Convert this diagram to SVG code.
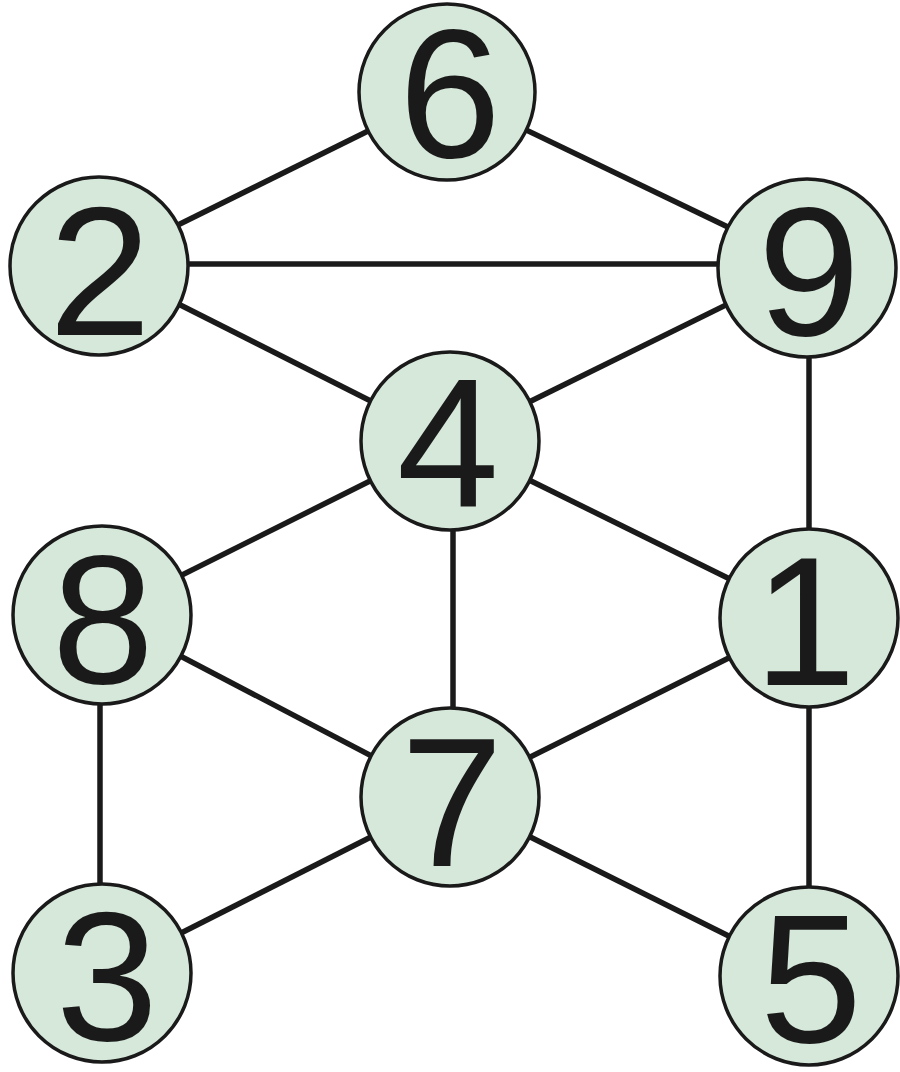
<svg xmlns="http://www.w3.org/2000/svg" width="900" height="1072" viewBox="0 0 900 1072">
<style>
.edge{stroke:#1a1a1a;stroke-width:5.5;stroke-linecap:butt;fill:none}
.node circle{fill:#d6e8da;stroke:#1a1a1a;stroke-width:3.5}
.node text{font-family:"Liberation Sans",Arial,sans-serif;font-size:184px;fill:#1a1a1a;text-anchor:middle}
</style>
<rect width="900" height="1072" fill="#ffffff"/>
<g id="connectors">
<line class="edge" x1="447" y1="92" x2="99" y2="264"/>
<line class="edge" x1="447" y1="92" x2="807" y2="265"/>
<line class="edge" x1="99" y1="264" x2="807" y2="264"/>
<line class="edge" x1="99" y1="264" x2="450" y2="441"/>
<line class="edge" x1="807" y1="265" x2="450" y2="441"/>
<line class="edge" x1="809" y1="265" x2="809" y2="618"/>
<line class="edge" x1="450" y1="441" x2="102" y2="615"/>
<line class="edge" x1="450" y1="441" x2="809" y2="618"/>
<line class="edge" x1="453" y1="441" x2="453" y2="797"/>
<line class="edge" x1="102" y1="615" x2="450" y2="797"/>
<line class="edge" x1="100" y1="615" x2="100" y2="973"/>
<line class="edge" x1="809" y1="618" x2="450" y2="797"/>
<line class="edge" x1="809" y1="618" x2="809" y2="976"/>
<line class="edge" x1="450" y1="797" x2="102" y2="973"/>
<line class="edge" x1="450" y1="797" x2="809" y2="976"/>
</g>
<g id="node6" class="node"><circle cx="447" cy="92" r="88"/><text x="450" y="157">6</text></g>
<g id="node2" class="node"><circle cx="99" cy="266" r="89"/><text x="100" y="335">2</text></g>
<g id="node9" class="node"><circle cx="807" cy="268" r="89"/><text x="809" y="335">9</text></g>
<g id="node4" class="node"><circle cx="450" cy="441" r="89"/><text x="448" y="507">4</text></g>
<g id="node8" class="node"><circle cx="102" cy="615" r="89"/><text x="103" y="683">8</text></g>
<g id="node1" class="node"><circle cx="809" cy="618" r="89"/><text x="805" y="685">1</text></g>
<g id="node7" class="node"><circle cx="450" cy="797" r="89"/><text x="452" y="866">7</text></g>
<g id="node3" class="node"><circle cx="102" cy="973" r="89"/><text x="107" y="1040">3</text></g>
<g id="node5" class="node"><circle cx="809" cy="976" r="89"/><text x="811" y="1042">5</text></g>
</svg>
